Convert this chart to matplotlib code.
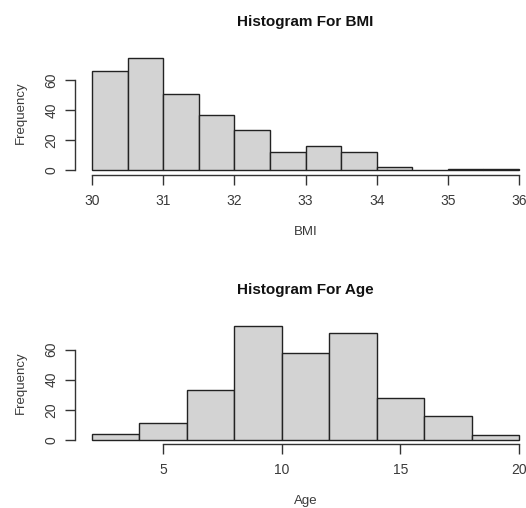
import matplotlib
matplotlib.use("Agg")
import matplotlib.pyplot as plt
import numpy as np

# ---- data ----
bmi_edges = [30, 30.5, 31, 31.5, 32, 32.5, 33, 33.5, 34, 34.5, 35, 35.5, 36]
bmi_counts = [66, 75, 51, 37, 27, 12, 16, 12, 2, 0, 1, 1]
bmi_xticks = [30, 31, 32, 33, 34, 35, 36]
bmi_yticks = [0, 20, 40, 60]

age_edges = [2, 4, 6, 8, 10, 12, 14, 16, 18, 20]
age_counts = [4, 11, 33, 76, 58, 71, 28, 16, 3]
age_xticks = [5, 10, 15, 20]
age_yticks = [0, 20, 40, 60]

plt.rcParams['font.family'] = ['Liberation Sans', 'DejaVu Sans']

W, H = 526, 508
fig = plt.figure(figsize=(W / 100, H / 100), dpi=100)
fig.patch.set_facecolor('white')

TXT = '#3a3a3a'


def rhist(ax, edges, counts, xticks, yticks, title, xlabel,
          title_y_px, xlabel_y_px, ylabel_y_px, ax_top_px, ax_h_px):
    edges = np.asarray(edges, dtype=float)
    counts = np.asarray(counts, dtype=float)
    widths = np.diff(edges)
    ax.bar(edges[:-1], counts, width=widths, align='edge',
           color='#d3d3d3', edgecolor='#222222', linewidth=1.0)
    x0, x1 = edges[0], edges[-1]
    pad = 0.04 * (x1 - x0)
    ax.set_xlim(x0 - pad, x1 + pad)
    ymax = counts.max()
    ax.set_ylim(-0.04 * ymax, ymax * 1.04)
    for s in ['top', 'right']:
        ax.spines[s].set_visible(False)
    ax.spines['bottom'].set_bounds(xticks[0], xticks[-1])
    ax.spines['left'].set_bounds(yticks[0], yticks[-1])
    for s in ['bottom', 'left']:
        ax.spines[s].set_color('#333333')
        ax.spines[s].set_linewidth(1.0)
    ax.set_xticks(xticks)
    ax.set_yticks(yticks)
    ax.set_xticklabels([str(t) for t in xticks])
    ax.set_yticklabels([str(t) for t in yticks])
    ax.tick_params(axis='x', length=7, width=1.0, color='#333333',
                   labelsize=10, labelcolor=TXT, pad=6.5)
    ax.tick_params(axis='y', length=7, width=1.0, color='#333333',
                   labelsize=10, labelcolor=TXT, pad=5, labelrotation=90)
    for lab in ax.get_yticklabels():
        lab.set_va('center')
    ty = 1 + (ax_top_px - title_y_px) / ax_h_px
    ax.set_title(title, fontsize=11, fontweight='bold', color='#111111',
                 y=ty, va='center', pad=0)
    ax.set_xlabel(xlabel, fontsize=9.5, color=TXT)
    ax.set_ylabel('Frequency', fontsize=9.5, color=TXT)
    ax.xaxis.set_label_coords(305.5 / W, (H - xlabel_y_px) / H, transform=fig.transFigure)
    ax.yaxis.set_label_coords(20.7 / W, (H - ylabel_y_px) / H, transform=fig.transFigure)
    ax.xaxis.label.set_va('center')
    ax.yaxis.label.set_va('center')
    ax.set_facecolor('none')


left = 74.9 / W
width = (536.1 - 74.9) / W

ax1 = fig.add_axes([left, (H - 174.8) / H, width, (174.8 - 53.3) / H])
rhist(ax1, bmi_edges, bmi_counts, bmi_xticks, bmi_yticks, 'Histogram For BMI', 'BMI',
      21.7, 231.7, 113, 53.3, 174.8 - 53.3)

ax2 = fig.add_axes([left, (H - 444.3) / H, width, (444.3 - 321.1) / H])
rhist(ax2, age_edges, age_counts, age_xticks, age_yticks, 'Histogram For Age', 'Age',
      290, 500.7, 383, 321.1, 444.3 - 321.1)

fig.savefig('out.png', dpi=100)
